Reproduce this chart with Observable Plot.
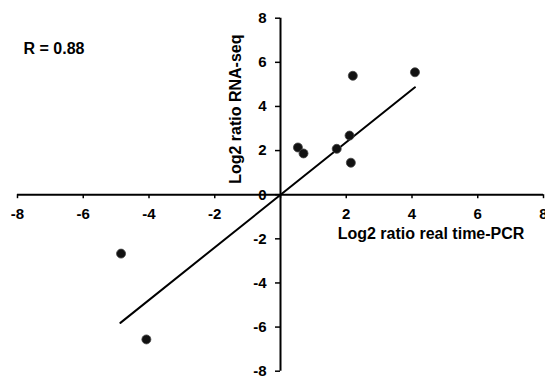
<!DOCTYPE html>
<html><head><meta charset="utf-8">
<script src="https://cdn.jsdelivr.net/npm/d3@7"></script>
<script src="https://cdn.jsdelivr.net/npm/@observablehq/plot@0.6"></script>
<style>
html,body{margin:0;padding:0;background:#fff;}
</style></head><body><div id="chart"></div>
<script>
const qpcr   = [0.53, 0.70, 1.71, 2.10, 2.14, 2.20, 4.09, -4.85, -4.08];
const rnaseq = [2.14, 1.87, 2.08, 2.68, 1.45, 5.39, 5.55, -2.67, -6.56];
const fitX = [-4.87, 4.09];
const fitY = [-5.81, 4.87];
const xTicks = [-8, -6, -4, -2, 0, 2, 4, 6, 8];
const xTickLabels = [-8, -6, -4, -2, 2, 4, 6, 8];
const yTicks = [-8, -6, -4, -2, 0, 2, 4, 6, 8];
const xTitle = "Log2 ratio real time-PCR";
const yTitle = "Log2 ratio RNA-seq";
const rLabel = "R = 0.88";

const points = qpcr.map((x, i) => ({x, y: rnaseq[i]}));
const fit = fitX.map((x, i) => ({x, y: fitY[i]}));

const chart = Plot.plot({
  width: 545, height: 376,
  marginLeft: 17, marginRight: 2, marginTop: 17.7, marginBottom: 5.3,
  x: {domain: [-8, 8], axis: null},
  y: {domain: [-8, 8], axis: null},
  style: {fontFamily: "'Liberation Sans', Arial, sans-serif", fontWeight: "bold", color: "#000", background: "#fff", overflow: "visible"},
  marks: [
    Plot.ruleY([0], {x1: -8, x2: 8, stroke: "#000", strokeWidth: 2}),
    Plot.ruleX([0], {y1: -8, y2: 8, stroke: "#000", strokeWidth: 2}),
    Plot.ruleX(xTicks, {x: d => d, y1: () => 0, y2: () => 0, insetBottom: -4, stroke: "#000", strokeWidth: 1.5}),
    Plot.ruleY(yTicks, {y: d => d, x1: () => 0, x2: () => 0, insetLeft: -5, stroke: "#000", strokeWidth: 1.5}),
    Plot.text(xTickLabels, {x: d => d, y: () => 0, text: d => String(d), dy: 19.5, fontSize: 15, fontWeight: "bold", fill: "#000"}),
    Plot.text(yTicks, {x: () => 0, y: d => d, text: d => String(d), dx: -14, textAnchor: "end", fontSize: 15, fontWeight: "bold", fill: "#000"}),
    Plot.line(fit, {x: "x", y: "y", stroke: "#000", strokeWidth: 2}),
    Plot.dot(points, {x: "x", y: "y", r: 4.5, fill: "#111", stroke: "#444", strokeWidth: 0.8}),
    Plot.text([rLabel], {frameAnchor: "top-left", dx: 6, dy: 31, textAnchor: "start", lineAnchor: "middle", fontSize: 16, fontWeight: "bold", fill: "#000"}),
    Plot.text([yTitle], {frameAnchor: "top-left", dx: 218, dy: 91, rotate: -90, textAnchor: "middle", lineAnchor: "middle", fontSize: 16, fontWeight: "bold", fill: "#000"}),
    Plot.text([xTitle], {frameAnchor: "top-left", dx: 413.5, dy: 215.3, textAnchor: "middle", lineAnchor: "middle", fontSize: 16, fontWeight: "bold", fill: "#000"})
  ]
});
document.getElementById("chart").appendChild(chart);
</script>
</body></html>
